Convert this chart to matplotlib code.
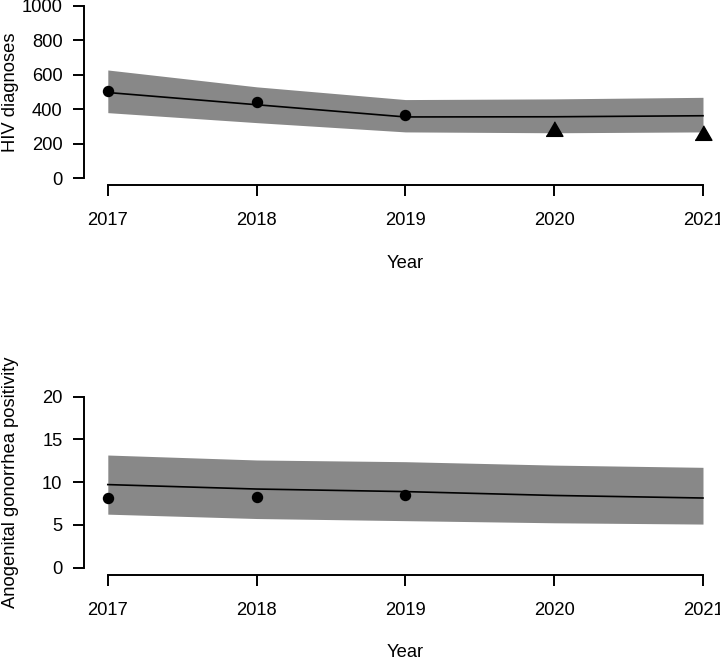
import matplotlib
matplotlib.use("Agg")
import matplotlib.pyplot as plt
import numpy as np

plt.rcParams['font.family'] = ['Liberation Sans', 'DejaVu Sans']

years = [2017, 2018, 2019, 2020, 2021]
year_labels = ["2017", "2018", "2019", "2020", "2021"]

# Panel 1: HIV diagnoses
hiv_obs_years = [2017, 2018, 2019]
hiv_obs = [506, 440, 366]
hiv_covid_years = [2020, 2021]
hiv_covid = [272, 250]
hiv_fit = [497, 426, 355, 356, 362]
hiv_lo = [380, 322, 268, 263, 268]
hiv_hi = [628, 530, 456, 460, 469]
hiv_yticks = [0, 200, 400, 600, 800, 1000]

# Panel 2: Anogenital gonorrhea positivity
gon_obs_years = [2017, 2018, 2019]
gon_obs = [8.2, 8.3, 8.5]
gon_fit = [9.72, 9.2, 8.9, 8.45, 8.15]
gon_lo = [6.26, 5.75, 5.5, 5.25, 5.1]
gon_hi = [13.18, 12.6, 12.4, 12.0, 11.74]
gon_yticks = [0, 5, 10, 15, 20]

W, H = 720, 660
fig = plt.figure(figsize=(W / 100, H / 100), dpi=100)

FS = 13.2
BAND = '#888888'
tri = [(-1, -0.577), (1, -0.577), (0, 1.155)]


def style(ax, yticks, ylabel, xlab_y):
    ax.set_xlim(2016.84, 2021.16)
    yr = yticks[-1] - yticks[0]
    ax.set_ylim(yticks[0] - 0.04 * yr, yticks[-1] + 0.04 * yr)
    for s in ['top', 'right']:
        ax.spines[s].set_visible(False)
    ax.spines['left'].set_bounds(yticks[0], yticks[-1])
    ax.spines['bottom'].set_bounds(years[0], years[-1])
    for s in ['left', 'bottom']:
        ax.spines[s].set_linewidth(1.4)
    ax.set_xticks(years)
    ax.set_xticklabels(year_labels)
    ax.set_yticks(yticks)
    ax.set_yticklabels([str(t) for t in yticks])
    ax.tick_params(axis='both', length=8, width=1.4, labelsize=FS, direction='out')
    ax.tick_params(axis='y', pad=7.5)
    ax.tick_params(axis='x', pad=11.5)
    ax.set_xlabel('Year', fontsize=FS)
    ax.xaxis.label.set_va('center')
    ax.xaxis.set_label_coords(0.5, xlab_y)
    ax.set_ylabel(ylabel, fontsize=FS)
    ax.yaxis.label.set_va('center')
    ax.yaxis.set_label_coords(-(84 - 11) / 642.8, 0.5)
    ax.patch.set_visible(False)


ax1 = fig.add_axes([84 / W, 1 - 184.9 / H, 642.8 / W, 185.8 / H])
ax1.fill_between(years, hiv_lo, hiv_hi, color=BAND, linewidth=0, zorder=1)
ax1.plot(years, hiv_fit, color='black', lw=1.2, zorder=2)
ax1.plot(hiv_obs_years, hiv_obs, 'o', color='black', ms=7.2, zorder=3)
ax1.plot(hiv_covid_years, hiv_covid, linestyle='none', marker=tri, color='black',
         ms=14, zorder=3, clip_on=False)
style(ax1, hiv_yticks, 'HIV diagnoses', -(264 - 184.9) / 185.8)

ax2 = fig.add_axes([84 / W, 1 - 574.5 / H, 642.8 / W, 184.6 / H])
ax2.fill_between(years, gon_lo, gon_hi, color=BAND, linewidth=0, zorder=1)
ax2.plot(years, gon_fit, color='black', lw=1.2, zorder=2)
ax2.plot(gon_obs_years, gon_obs, 'o', color='black', ms=7.2, zorder=3)
style(ax2, gon_yticks, 'Anogenital gonorrhea positivity', -(652.7 - 574.5) / 184.6)

fig.savefig('out.png', dpi=100)
